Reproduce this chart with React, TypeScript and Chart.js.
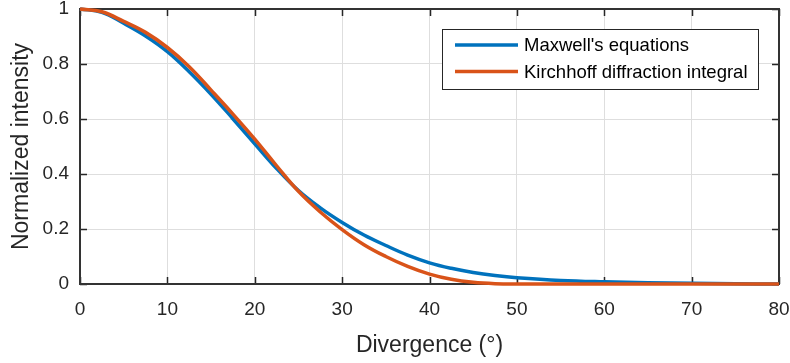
import React, { useEffect, useRef } from "react";
import { Chart, registerables } from "chart.js";

Chart.register(...registerables);

// Divergence angle (degrees)
const divergence = [0, 2.5, 5, 7.5, 10, 12.5, 15, 17.5, 20, 22.5, 25, 27.5, 30, 32.5, 35, 37.5, 40, 42.5, 45, 47.5, 50, 55, 60, 65, 70, 75, 80];
// Maxwell's equations (normalized intensity)
const maxwell = [1.0, 0.988, 0.948, 0.902, 0.845, 0.772, 0.69, 0.601, 0.51, 0.42, 0.34, 0.277, 0.224, 0.178, 0.14, 0.105, 0.077, 0.057, 0.042, 0.031, 0.023, 0.013, 0.008, 0.005, 0.003, 0.001, 0.0];
// Kirchhoff diffraction integral (normalized intensity)
const kirchhoff = [1.0, 0.99, 0.955, 0.915, 0.86, 0.79, 0.705, 0.618, 0.527, 0.43, 0.337, 0.262, 0.198, 0.143, 0.1, 0.064, 0.036, 0.017, 0.006, 0.001, 0.0, 0.0, 0.0, 0.0, 0.0, 0.0, 0.0];

const seriesLabels = ["Maxwell's equations", "Kirchhoff diffraction integral"];
const seriesColors = ["#0072BD", "#D95319"];
const xTitle = "Divergence (°)";
const yTitle = "Normalized intensity";

const FONT = "'Liberation Sans', Arial, Helvetica, sans-serif";
const AXIS = "#262626";

const matlabFrame = {
  id: "matlabFrame",
  beforeDatasetsDraw(chart: any) {
    const { ctx, chartArea } = chart;
    const { left, right, top, bottom } = chartArea;
    const xs = chart.scales.x;
    const ys = chart.scales.y;
    const tl = 7;
    ctx.save();
    ctx.strokeStyle = AXIS;
    ctx.lineWidth = 1.5;
    ctx.beginPath();
    xs.ticks.forEach((t: any) => {
      const px = Math.round(xs.getPixelForValue(t.value)) + 0.5;
      ctx.moveTo(px, bottom);
      ctx.lineTo(px, bottom - tl);
      ctx.moveTo(px, top);
      ctx.lineTo(px, top + tl);
    });
    ys.ticks.forEach((t: any) => {
      const py = Math.round(ys.getPixelForValue(t.value)) + 0.5;
      ctx.moveTo(left, py);
      ctx.lineTo(left + tl, py);
      ctx.moveTo(right, py);
      ctx.lineTo(right - tl, py);
    });
    ctx.stroke();
    ctx.lineWidth = 2;
    ctx.strokeStyle = "#333333";
    ctx.strokeRect(left, top, right - left, bottom - top);
    ctx.restore();
  },
  afterDatasetsDraw(chart: any) {
    const { ctx } = chart;
    const bx = 442, by = 29, bw = 316, bh = 60;
    ctx.save();
    ctx.fillStyle = "#ffffff";
    ctx.fillRect(bx, by, bw, bh);
    ctx.strokeStyle = AXIS;
    ctx.lineWidth = 1;
    ctx.strokeRect(bx + 0.5, by + 0.5, bw, bh);
    ctx.font = `18.5px ${FONT}`;
    ctx.textBaseline = "middle";
    ctx.textAlign = "left";
    chart.data.datasets.forEach((ds: any, i: number) => {
      const yy = by + 16 + i * 26.5;
      ctx.strokeStyle = ds.borderColor;
      ctx.lineWidth = 3.5;
      ctx.beginPath();
      ctx.moveTo(bx + 13, yy);
      ctx.lineTo(bx + 76, yy);
      ctx.stroke();
      ctx.fillStyle = "#000000";
      ctx.fillText(ds.label, bx + 82, yy + 1);
    });
    ctx.restore();
  },
};

export default function App() {
  const ref = useRef<HTMLCanvasElement | null>(null);

  useEffect(() => {
    if (!ref.current) return;
    const mk = (ys: number[]) => divergence.map((x, i) => ({ x, y: ys[i] }));
    const chart = new Chart(ref.current, {
      type: "line",
      data: {
        datasets: [
          {
            label: seriesLabels[0],
            data: mk(maxwell),
            borderColor: seriesColors[0],
            backgroundColor: seriesColors[0],
            borderWidth: 3.5,
            pointRadius: 0,
            tension: 0.4,
            clip: 6,
            order: 1,
          },
          {
            label: seriesLabels[1],
            data: mk(kirchhoff),
            borderColor: seriesColors[1],
            backgroundColor: seriesColors[1],
            borderWidth: 3.5,
            pointRadius: 0,
            tension: 0.4,
            clip: 6,
            order: 0,
          },
        ],
      },
      options: {
        responsive: false,
        animation: false,
        events: [],
        layout: { padding: { top: 9, right: 11, left: 0, bottom: 0 } },
        plugins: { legend: { display: false }, tooltip: { enabled: false } },
        scales: {
          x: {
            type: "linear",
            min: 0,
            max: 80,
            ticks: {
              stepSize: 10,
              padding: 14,
              color: AXIS,
              font: { family: FONT, size: 19 },
              maxRotation: 0,
            },
            grid: { color: "#dedede", lineWidth: 1, drawTicks: false },
            border: { display: false },
            title: {
              display: true,
              text: xTitle,
              color: AXIS,
              font: { family: FONT, size: 23, lineHeight: 1.2 },
              padding: { top: 0, bottom: 4 },
            },
            afterFit(scale: any) {
              scale.height = 79;
              scale.paddingLeft = 0;
              scale.paddingRight = 0;
              scale.paddingTop = 0;
              scale.paddingBottom = 0;
            },
          },
          y: {
            type: "linear",
            min: 0,
            max: 1,
            ticks: {
              stepSize: 0.2,
              padding: 11,
              color: AXIS,
              font: { family: FONT, size: 19 },
              callback: (v: any) => String(Number(Number(v).toFixed(1))),
            },
            grid: { color: "#dedede", lineWidth: 1, drawTicks: false },
            border: { display: false },
            title: {
              display: true,
              text: yTitle,
              color: AXIS,
              font: { family: FONT, size: 23, lineHeight: 1.2 },
              padding: { top: 8, bottom: 0 },
            },
            afterFit(scale: any) {
              scale.width = 80;
              scale.paddingLeft = 0;
              scale.paddingRight = 0;
              scale.paddingTop = 0;
              scale.paddingBottom = 0;
            },
          },
        },
      },
      plugins: [matlabFrame],
    });
    return () => chart.destroy();
  }, []);

  return (
    <div style={{ position: "fixed", left: 0, top: 0, width: 790, height: 363, background: "#ffffff" }}>
      <canvas ref={ref} width={790} height={363} style={{ display: "block", width: 790, height: 363 }} />
    </div>
  );
}
